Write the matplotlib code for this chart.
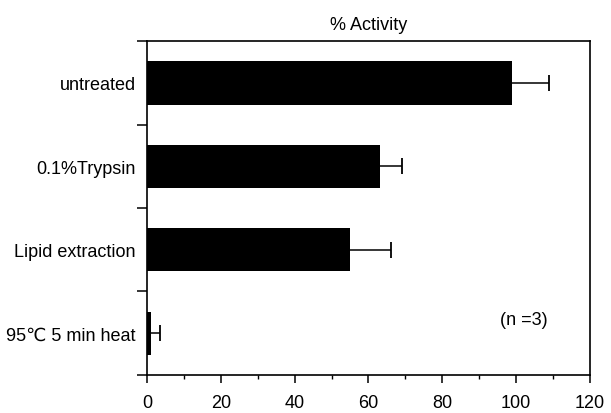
import matplotlib
matplotlib.use('Agg')
import matplotlib.pyplot as plt
from matplotlib.ticker import MultipleLocator, FixedLocator

# data (top to bottom)
labels = ['untreated', '0.1%Trypsin', 'Lipid extraction', '95\u2103 5 min heat']
activity = [99, 63, 55, 1]
err = [10, 6, 11, 2.5]

plt.rcParams['font.family'] = ['Liberation Sans', 'DejaVu Sans']
plt.rcParams['font.size'] = 13

fig = plt.figure(figsize=(6.11, 4.14), dpi=100)
ax = fig.add_axes([0.2406, 0.092, 0.725, 0.806])

ypos = list(range(len(labels)))
ax.barh(ypos, activity, height=0.52, color='black')
# one-sided error bars (right side only)
ends = [a + e for a, e in zip(activity, err)]
ax.hlines(ypos, activity, ends, color='black', lw=1.1)
ax.plot(ends, ypos, ls='none', marker='|', ms=12, mew=1.3, color='black')

ax.set_ylim(len(labels) - 0.5, -0.5)
ax.set_xlim(0, 120)
ax.set_yticks(ypos)
ax.set_yticklabels(labels)
ax.yaxis.set_minor_locator(FixedLocator([i - 0.5 for i in range(len(labels) + 1)]))
ax.tick_params(axis='y', which='major', length=0, pad=8)
ax.tick_params(axis='y', which='minor', length=7, width=1.1, direction='out')

ax.xaxis.set_major_locator(MultipleLocator(20))
ax.xaxis.set_minor_locator(MultipleLocator(10))
ax.tick_params(axis='x', which='major', length=6, width=1.1, direction='out', pad=8)
ax.tick_params(axis='x', which='minor', length=3, width=1.0, direction='out')

for s in ax.spines.values():
    s.set_linewidth(1.2)

ax.set_title('% Activity', fontsize=13, pad=9)
ax.text(102, 2.83, '(n =3)', ha='center', va='center')

fig.savefig('out.png', dpi=100)
